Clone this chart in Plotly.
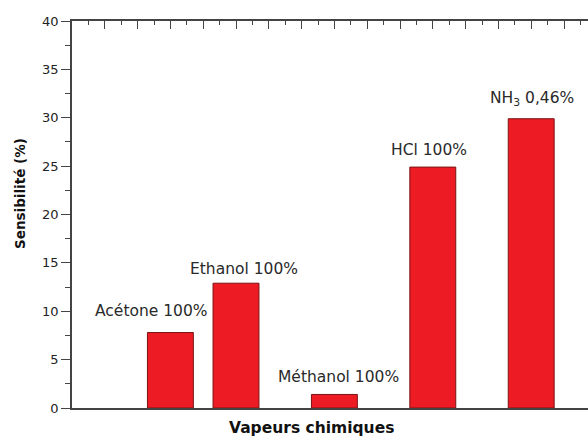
import plotly.graph_objects as go

labels = ["Acétone 100%", "Ethanol 100%", "Méthanol 100%", "HCl 100%", "NH<sub>3</sub> 0,46%"]
positions = [3, 5, 8, 11, 14]
values = [7.8, 12.9, 1.4, 24.9, 29.9]
label_x = [2.42, 5.24, 8.14, 10.88, 14.01]
label_y = [10.0, 14.4, 3.2, 26.7, 31.9]

W, H = 588, 441
L, T, B, R = 72, 21, 33, 0
xmax = (W - L - R) / 32.8
FONT = "DejaVu Sans"

fig = go.Figure()
fig.add_trace(go.Bar(
    x=positions, y=values, width=1.4,
    marker=dict(color="#ed1c24", line=dict(color="#7a1414", width=1)),
    showlegend=False, hoverinfo="skip"))
fig.add_trace(go.Scatter(x=[1, 2], y=[-5, -5], xaxis="x2", yaxis="y", mode="lines",
                         line=dict(width=0), showlegend=False, hoverinfo="skip"))

for lx, ly, t in zip(label_x, label_y, labels):
    fig.add_annotation(x=lx, y=ly, text=t, showarrow=False, xref="x", yref="y",
                       font=dict(family=FONT, size=15.5, color="#2a2a2a"))

pw, ph = W - L - R, H - T - B
fig.add_annotation(x=(311 - L) / pw, y=-(428 - (H - B)) / ph, xref="paper", yref="paper",
                   text="<b>Vapeurs chimiques</b>", showarrow=False,
                   xanchor="center", yanchor="middle",
                   font=dict(family=FONT, size=15.5, color="#111111"))
fig.add_annotation(x=-(L - 20) / pw, y=(H - B - 194) / ph, xref="paper", yref="paper",
                   text="<b>Sensibilité (%)</b>", textangle=-90, showarrow=False,
                   xanchor="center", yanchor="middle",
                   font=dict(family=FONT, size=13.5, color="#111111"))

fig.update_layout(
    width=W, height=H,
    margin=dict(l=L, r=R, t=T, b=B, pad=0),
    plot_bgcolor="white", paper_bgcolor="white",
    xaxis=dict(range=[0, xmax], showline=True, linecolor="#444444", linewidth=1.5,
               ticks="", showticklabels=False, showgrid=False, zeroline=False),
    xaxis2=dict(range=[0, xmax], overlaying="x", side="top", anchor="y", showline=True,
                linecolor="#444444", linewidth=1.5, ticks="inside", ticklen=8, tickwidth=1.2,
                tickcolor="#444444", tickmode="linear", dtick=1, tick0=0, showticklabels=False,
                showgrid=False, zeroline=False,
                minor=dict(ticks="inside", ticklen=4, dtick=0.5, tick0=0, tickcolor="#444444",
                           tickwidth=1.2, showgrid=False)),
    yaxis=dict(range=[0, 40], showline=True, linecolor="#444444", linewidth=1.5,
               ticks="outside", ticklen=9, tickwidth=1.2, tickcolor="#444444", dtick=5, tick0=0,
               showgrid=False, zeroline=False,
               tickfont=dict(family=FONT, size=13, color="#222222"),
               minor=dict(ticks="outside", ticklen=5, tickwidth=1.2, dtick=2.5, tick0=0,
                          tickcolor="#444444", showgrid=False)),
)

fig.write_html("out.html", config={"displayModeBar": False},
               post_script="document.body.style.margin='0';document.body.style.overflow='hidden';")
